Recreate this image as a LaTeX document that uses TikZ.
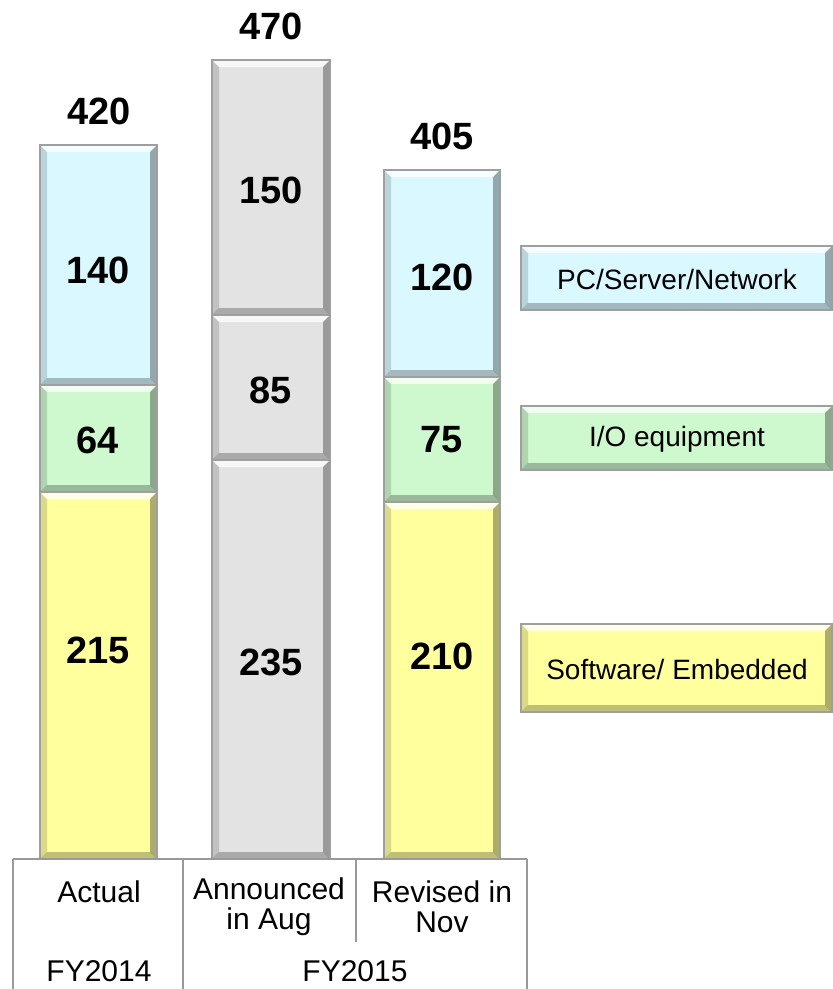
\documentclass[tikz,border=0pt]{standalone}
\usepackage{fontspec}
\setmainfont{Liberation Sans}
\usetikzlibrary{calc}

\definecolor{pcblue}{HTML}{D9F8FF}
\definecolor{iogreen}{HTML}{CEF8CE}
\definecolor{swyellow}{HTML}{FFFF9E}
\definecolor{plangray}{HTML}{E3E3E3}

\newcommand{\bv}{7}
% bevelled box: x1, y1, x2, y2, fill colour
\newcommand{\bevelbox}[5]{%
  \fill[#5] (#1,#2) rectangle (#3,#4);
  \fill[white,opacity=.75] (#1,#2) -- (#3,#2) -- ($(#3,#2)+(-\bv,\bv)$) -- ($(#1,#2)+(\bv,\bv)$) -- cycle;
  \fill[black,opacity=.14] (#1,#2) -- ($(#1,#2)+(\bv,\bv)$) -- ($(#1,#4)+(\bv,-\bv)$) -- (#1,#4) -- cycle;
  \fill[black,opacity=.32] (#3,#2) -- ($(#3,#2)+(-\bv,\bv)$) -- ($(#3,#4)+(-\bv,-\bv)$) -- (#3,#4) -- cycle;
  \fill[black,opacity=.25] (#1,#4) -- ($(#1,#4)+(\bv,-\bv)$) -- ($(#3,#4)+(-\bv,-\bv)$) -- (#3,#4) -- cycle;
  \draw[edge] (#1,#2) rectangle (#3,#4);
}

\tikzset{
  edge/.style={draw=gray!75, line width=1.2pt},
  grid/.style={draw=gray!80, line width=1.3pt},
  val/.style={font=\fontsize{38}{40}\selectfont\bfseries},
  lab/.style={font=\fontsize{30}{30}\selectfont, align=center},
  leg/.style={font=\fontsize{28}{30}\selectfont},
}

\begin{document}
\begin{tikzpicture}[x=1pt, y=-1pt]
\clip (0,0) rectangle (833,989);

% FY2014 actual
\bevelbox{40}{145}{157}{385}{pcblue}
\bevelbox{40}{385}{157}{492}{iogreen}
\bevelbox{40}{492}{157}{859}{swyellow}

% announced in Aug
\bevelbox{212}{60}{330}{315}{plangray}
\bevelbox{212}{315}{330}{460}{plangray}
\bevelbox{212}{460}{330}{859}{plangray}

% revised in Nov
\bevelbox{384}{170}{500}{377}{pcblue}
\bevelbox{384}{377}{500}{502}{iogreen}
\bevelbox{384}{502}{500}{859}{swyellow}

% legend
\bevelbox{521}{246}{832}{310}{pcblue}
\bevelbox{521}{406}{832}{470}{iogreen}
\bevelbox{521}{624}{832}{712}{swyellow}

\node[val] (tot14) at (99,111) {420};
\node[val] (totaug) at (271,26) {470};
\node[val] (totnov) at (442,136) {405};

\node[val] (pc14) at (98,270) {140};
\node[val] (io14) at (98,440) {64};
\node[val] (sw14) at (98,650) {215};

\node[val] (pcaug) at (271,190) {150};
\node[val] (ioaug) at (271,390) {85};
\node[val] (swaug) at (271,662) {235};

\node[val] (pcnov) at (442,277) {120};
\node[val] (ionov) at (442,440) {75};
\node[val] (swnov) at (442,656) {210};

\node[leg] (legpc) at (677,279) {PC/Server/Network};
\node[leg] (legio) at (677,439) {I/O equipment};
\node[leg] (legsw) at (677,669) {Software/ Embedded};

% category table
\draw[grid] (13,859) -- (527,859);
\draw[grid] (13,859) -- (13,989);
\draw[grid] (183,859) -- (183,989);
\draw[grid] (356,859) -- (356,942);
\draw[grid] (527,859) -- (527,989);

\node[lab] (actual) at (99,892) {Actual};
\node[lab] (announced) at (269,907) {Announced\\in Aug};
\node[lab] (revised) at (442,907) {Revised in\\Nov};
\node[lab] (fy14) at (99,971) {FY2014};
\node[lab] (fy15) at (355,971) {FY2015};
\end{tikzpicture}
\end{document}
